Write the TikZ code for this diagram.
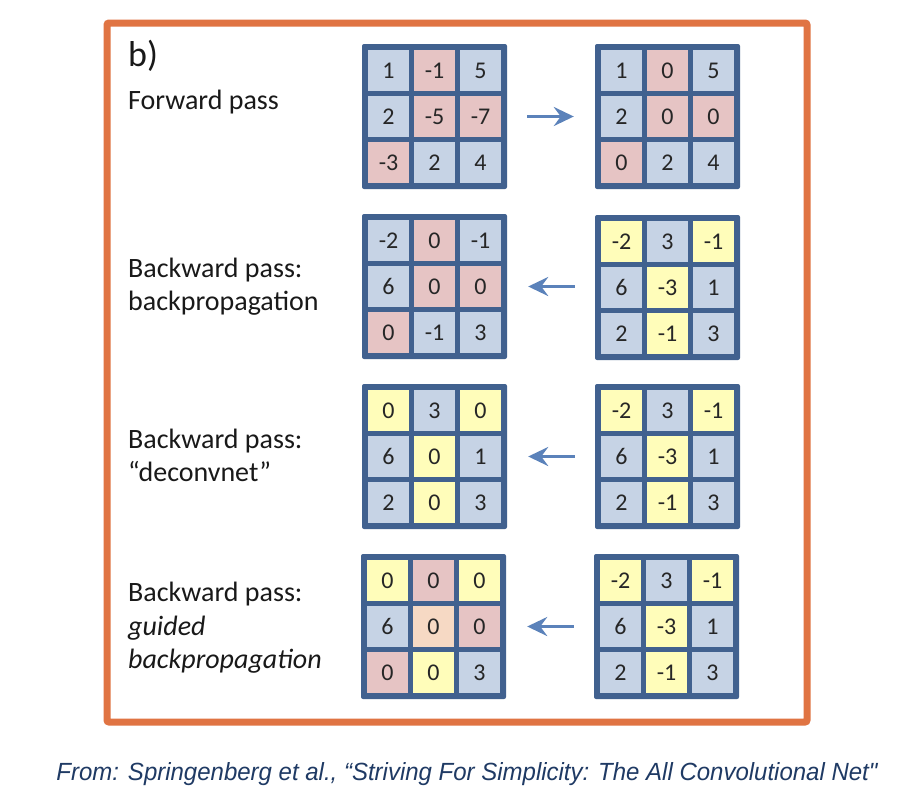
\documentclass[tikz,border=0pt]{standalone}
\usepackage{fontspec}
\setmainfont{Carlito}
\newfontfamily\capfont{Liberation Sans}
\usetikzlibrary{arrows.meta}
\definecolor{frameblue}{HTML}{41618F}
\definecolor{cb}{HTML}{C6D3E5}
\definecolor{cp}{HTML}{E6C4C4}
\definecolor{cy}{HTML}{FFFDBA}
\definecolor{co}{HTML}{F6D9C4}
\definecolor{borange}{HTML}{E07443}
\definecolor{arrblue}{HTML}{5B82BA}
\definecolor{capblue}{HTML}{1F3A64}
\tikzset{
  gridbg/.style={draw=none, fill=frameblue, minimum size=145pt, inner sep=0pt, rounded corners=2pt},
  cellbox/.style={draw=none, minimum size=41pt, inner sep=0pt, font=\fontsize{24}{24}\selectfont, text=black!85},
  lbl/.style={anchor=base west, inner sep=0pt, font=\fontsize{28}{33}\selectfont, text=black!90},
  passarrow/.style={draw=arrblue, line width=3.5pt, -{Stealth[length=20pt,width=19pt,inset=7pt]}},
}
\newcommand\mkgrid[4]{%
  \node[gridbg] (#1) at (#2,#3) {};
  \foreach \cc/\vv [count=\k from 0] in {#4}{
    \pgfmathtruncatemacro\cx{mod(\k,3)}
    \pgfmathtruncatemacro\cy{div(\k,3)}
    \node[cellbox, fill=\cc] (#1-\k) at ([shift={({(\cx-1)*46},{(\cy-1)*46})}]#1.center) {\vv};
  }
}
\begin{document}
\begin{tikzpicture}[x=1pt,y=-1pt]
\useasboundingbox (0,0) rectangle (912,796);
\fill[white] (0,0) rectangle (912,796);
\draw[borange, line width=7pt, rounded corners=2pt] (107,23) rectangle (807,722);

\node[lbl, font=\fontsize{36}{36}\selectfont] (tb) at (128,66) {b)};
\node[lbl] (t1) at (128,109) {Forward pass};
\node[lbl] (t2a) at (128,277) {Backward pass:};
\node[lbl] (t2b) at (128,310) {backpropagation};
\node[lbl] (t3a) at (128,448) {Backward pass:};
\node[lbl] (t3b) at (128,481) {“deconvnet”};
\node[lbl] (t4a) at (128,601) {Backward pass:};
\node[lbl] (t4b) at (128,635) {\itshape guided};
\node[lbl] (t4c) at (128,668) {\itshape backpropagation};

\mkgrid{g1l}{434.5}{116.5}{cb/1,cp/-1,cb/5,cb/2,cp/-5,cp/-7,cp/-3,cb/2,cb/4}
\mkgrid{g1r}{667.5}{116.5}{cb/1,cp/0,cb/5,cb/2,cp/0,cp/0,cp/0,cb/2,cb/4}
\mkgrid{g2l}{434.5}{286.5}{cb/-2,cp/0,cb/-1,cb/6,cp/0,cp/0,cp/0,cb/-1,cb/3}
\mkgrid{g2r}{667.5}{287.5}{cy/-2,cb/3,cy/-1,cb/6,cy/-3,cb/1,cb/2,cy/-1,cb/3}
\mkgrid{g3l}{434.5}{456.5}{cy/0,cb/3,cy/0,cb/6,cy/0,cb/1,cb/2,cy/0,cb/3}
\mkgrid{g3r}{667.5}{456.5}{cy/-2,cb/3,cy/-1,cb/6,cy/-3,cb/1,cb/2,cy/-1,cb/3}
\mkgrid{g4l}{433.5}{626.5}{cy/0,cp/0,cy/0,cb/6,co/0,cp/0,cp/0,cy/0,cb/3}
\mkgrid{g4r}{666.5}{626.5}{cy/-2,cb/3,cy/-1,cb/6,cy/-3,cb/1,cb/2,cy/-1,cb/3}

\draw[passarrow, shorten <=20pt, shorten >=21pt] (g1l.east) -- (g1r.west);
\draw[passarrow, shorten <=20pt, shorten >=21pt] (g2r.west |- g2l.east) -- (g2l.east);
\draw[passarrow, shorten <=20pt, shorten >=21pt] (g3r.west) -- (g3l.east);
\draw[passarrow, shorten <=20pt, shorten >=21pt] (g4r.west) -- (g4l.east);

\node[anchor=base, inner sep=0pt, text=capblue] (cap) at (467,780)
  {\resizebox{821pt}{18pt}{\capfont\itshape\fontsize{23}{23}\selectfont From: Springenberg et al., “Striving For Simplicity: The All Convolutional Net"}};
\end{tikzpicture}
\end{document}
